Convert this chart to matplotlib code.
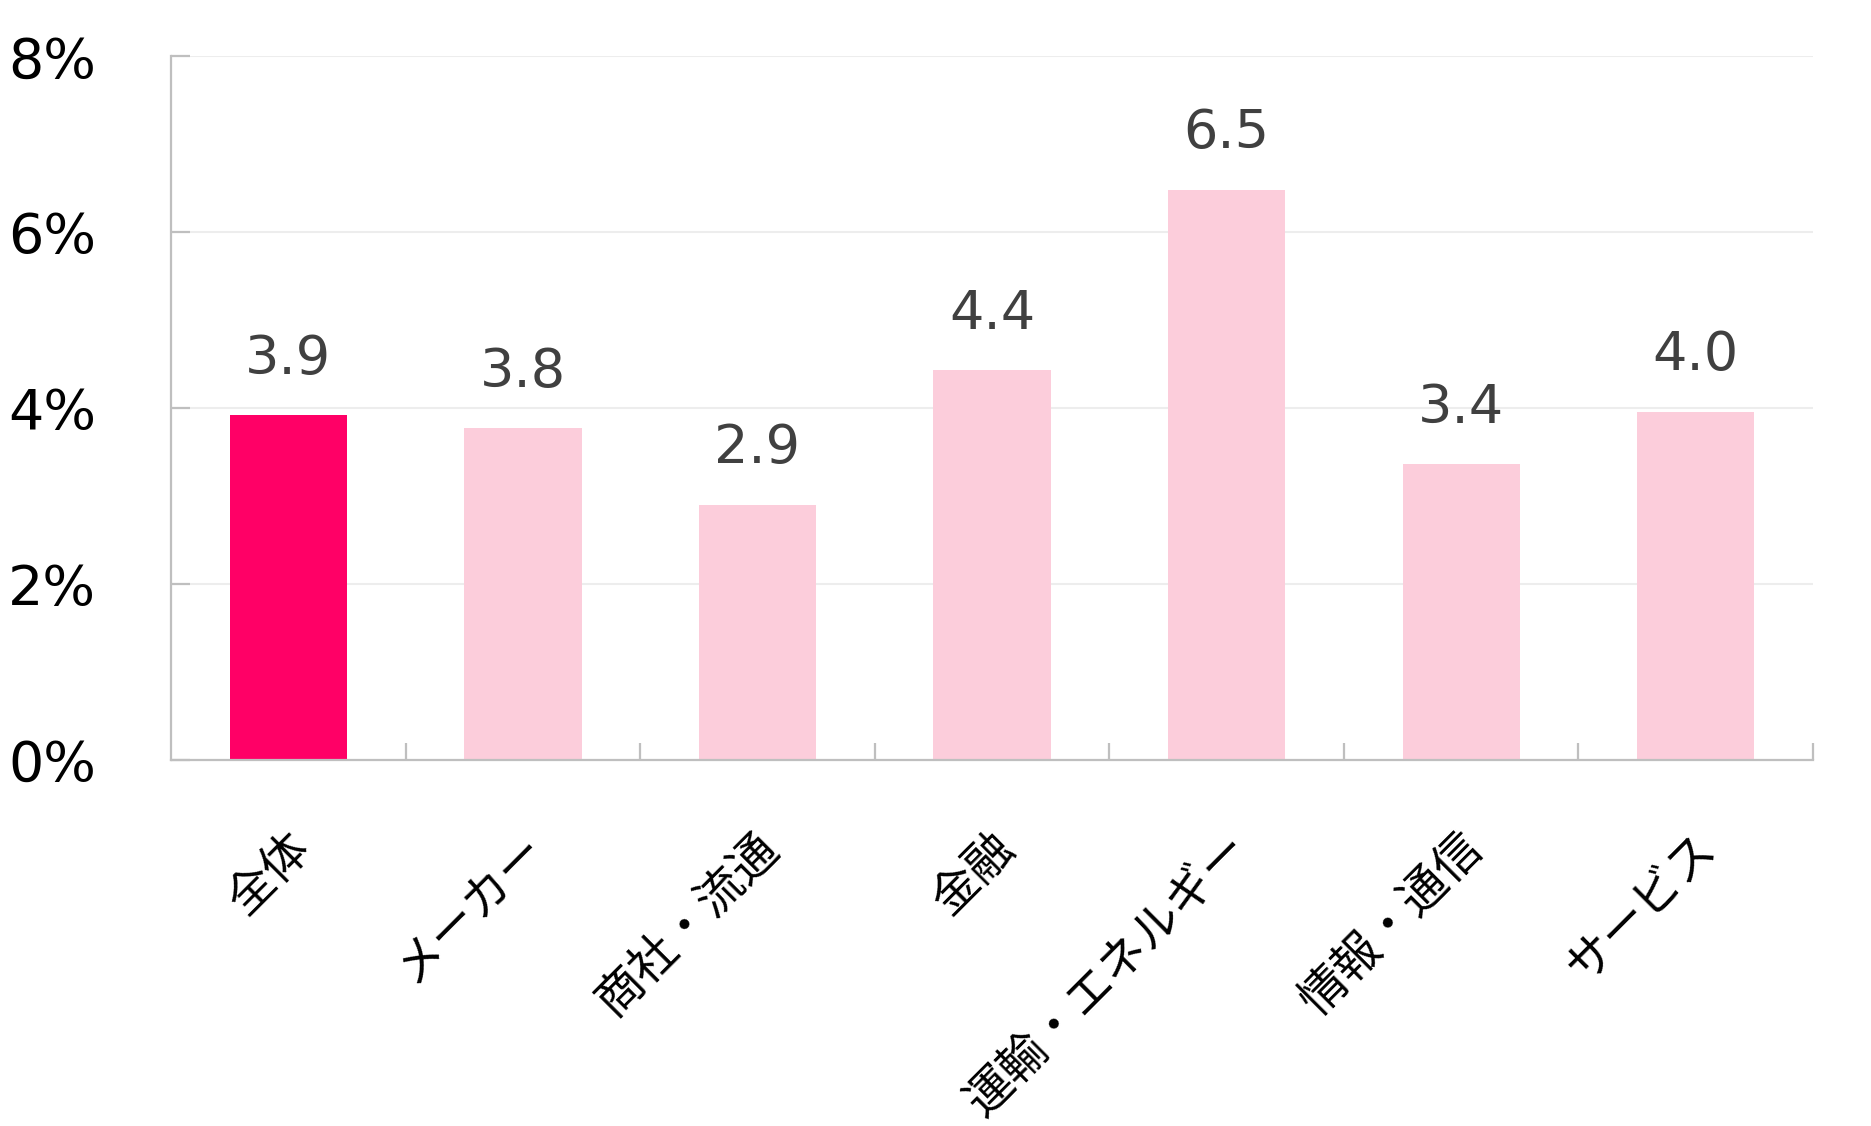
import matplotlib
matplotlib.use("Agg")
import matplotlib.pyplot as plt
from matplotlib import transforms
import numpy as np

plt.rcParams['font.family'] = ['DejaVu Sans', 'Noto Sans CJK JP']

# data
categories = ['全体', 'メーカー', '商社・流通', '金融', '運輸・エネルギー', '情報・通信', 'サービス']
values = [3.92, 3.77, 2.90, 4.43, 6.48, 3.36, 3.96]
labels = ['3.9', '3.8', '2.9', '4.4', '6.5', '3.4', '4.0']
bar_colors = ['#ff0066'] + ['#fccddb'] * 6
yticks = [0, 2, 4, 6, 8]

fig = plt.figure(figsize=(18.71, 11.26), dpi=100)
ax = fig.add_axes([0.0914, 0.325, 0.8776, 0.625])

x = np.arange(len(categories))
ax.bar(x, values, width=0.5, color=bar_colors, zorder=2)

for xi, v, lab in zip(x, values, labels):
    ax.annotate(lab, (xi, v), xytext=(0, 30), textcoords='offset points',
                ha='center', va='baseline', fontsize=39, color='#404040')

ax.set_xlim(-0.5, len(categories) - 0.5)
ax.set_ylim(0, 8)

# grid + spines
ax.set_yticks(yticks)
ax.set_yticklabels([f'{t}%' for t in yticks], fontsize=40, color='black')
ax.yaxis.grid(True, color='#ededed', linewidth=1.5, zorder=0)
ax.set_axisbelow(True)
for s in ['top', 'right']:
    ax.spines[s].set_visible(False)
for s in ['left', 'bottom']:
    ax.spines[s].set_color('#bfbfbf')
    ax.spines[s].set_linewidth(1.6)
ax.tick_params(axis='y', direction='in', length=14, width=1.6, color='#bfbfbf', pad=54)

# x ticks: labels at centres, tick marks at boundaries
ax.set_xticks(x)
ax.set_xticklabels([])
ax.tick_params(axis='x', which='major', length=0)
ax.set_xticks(np.arange(len(categories)) + 0.5, minor=True)
ax.tick_params(axis='x', which='minor', direction='in', length=12, width=1.6, color='#bfbfbf')

offset = transforms.ScaledTranslation(-2 / 72, -46 / 72, fig.dpi_scale_trans)
for xi, cat in zip(x, categories):
    ax.text(xi, 0, cat, rotation=45, ha='right', va='top', rotation_mode='anchor',
            fontsize=34, color='black', family=['Noto Sans CJK JP', 'DejaVu Sans'],
            transform=ax.get_xaxis_transform() + offset)

fig.savefig('out.png', dpi=100)
